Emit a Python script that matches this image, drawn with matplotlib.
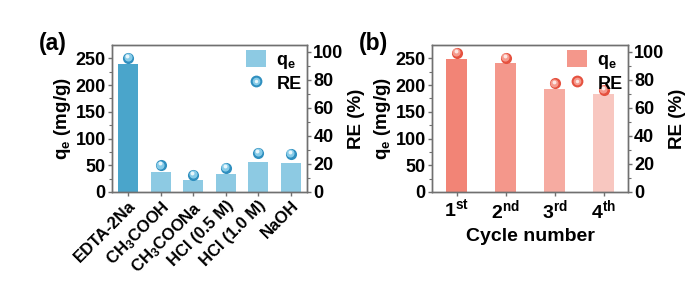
import matplotlib
matplotlib.use("Agg")
import matplotlib.pyplot as plt
from matplotlib.transforms import offset_copy
from matplotlib.lines import Line2D
from matplotlib.patches import Patch
from matplotlib.legend_handler import HandlerTuple

plt.rcParams['font.family'] = ['Liberation Sans', 'DejaVu Sans']
plt.rcParams['font.weight'] = 'bold'
plt.rcParams['mathtext.fontset'] = 'custom'
plt.rcParams['mathtext.rm'] = 'Liberation Sans:bold'
plt.rcParams['mathtext.it'] = 'Liberation Sans:bold'
plt.rcParams['mathtext.bf'] = 'Liberation Sans:bold'

# (a) desorption agents
agents = ["EDTA-2Na", "CH$_3$COOH", "CH$_3$COONa", "HCl (0.5 M)", "HCl (1.0 M)", "NaOH"]
qe_a = [239, 37.5, 22, 34, 55.5, 54.5]
re_a = [96, 19, 12, 17, 28, 27.5]
bar_colors_a = ["#4aa5cb", "#8dcae3", "#8dcae3", "#8dcae3", "#8dcae3", "#8dcae3"]

# (b) cycles
cycles = ["1$^{st}$", "2$^{nd}$", "3$^{rd}$", "4$^{th}$"]
qe_b = [248, 240.5, 193, 182.5]
re_b = [99.5, 96, 77.5, 73]
bar_colors_b = ["#f28476", "#f4978b", "#f6aba1", "#f8c7c0"]

blue_sphere = ("#2f8fbf", "#86cbe8", "#e8f6fb")
red_sphere = ("#e5513f", "#f59a8d", "#fde6e2")

W, H = 700, 283
fig = plt.figure(figsize=(7.0, 2.83), dpi=100)


def spheres(ax, x, y, cols):
    ax.scatter(x, y, s=64, color=cols[0], zorder=4, linewidths=0)
    t1 = offset_copy(ax.transData, fig=fig, x=-0.3, y=0.6, units='points')
    ax.scatter(x, y, s=34, color=cols[1], zorder=5, linewidths=0, transform=t1)
    t2 = offset_copy(ax.transData, fig=fig, x=-0.6, y=1.4, units='points')
    ax.scatter(x, y, s=8, color=cols[2], zorder=6, linewidths=0, transform=t2)


def style(ax):
    for s in ax.spines.values():
        s.set_color("#707070")
        s.set_linewidth(1.0)
    ax.tick_params(direction='out', length=3, width=1, color="#707070",
                   labelsize=13, pad=1.5)
    ax.tick_params(which='minor', direction='out', length=2, width=0.8, color="#707070")


def panel(rect, labels, qe, re, bar_colors, width, sph, legend_patch, tag):
    ax = fig.add_axes(rect)
    x = list(range(len(labels)))
    ax.bar(x, qe, width=width, color=bar_colors, zorder=2)
    ax.set_xlim(-0.5, len(labels) - 0.5)
    ax.set_ylim(0, 275)
    ax.set_yticks([0, 50, 100, 150, 200, 250])
    ax.set_yticks([25, 75, 125, 175, 225], minor=True)
    ax.set_ylabel("q$_e$ (mg/g)", fontsize=13.5, fontweight='bold', labelpad=2)
    style(ax)
    ax2 = ax.twinx()
    ax2.set_ylim(0, 105)
    ax2.set_yticks([0, 20, 40, 60, 80, 100])
    ax2.set_yticks([10, 30, 50, 70, 90], minor=True)
    ax2.set_ylabel("RE (%)", fontsize=13.5, fontweight='bold', labelpad=3)
    style(ax2)
    spheres(ax2, x, re, sph)
    ax.set_xticks(x)
    h_bar = Patch(facecolor=legend_patch)
    h_re = (Line2D([], [], marker='o', ls='', ms=8.5, color=sph[0], mew=0),
            Line2D([], [], marker='o', ls='', ms=5.5, color=sph[1], mew=0),
            Line2D([], [], marker='o', ls='', ms=2.5, color=sph[2], mew=0))
    ax2.legend([h_bar, h_re], ["q$_e$", "RE"], loc='upper right', frameon=False,
               fontsize=13, handler_map={tuple: HandlerTuple(ndivide=1, pad=0)},
               handlelength=1.1, handleheight=1.0, handletextpad=0.6,
               borderaxespad=0.1, labelspacing=0.2, borderpad=0.2)
    fig.text(rect[0] - 0.105, rect[1] + rect[3] + 0.005, tag, fontsize=16.5,
             fontweight='bold', va='center', ha='left')
    return ax


ax_a = panel([112 / W, 1 - 192 / H, 195 / W, 147 / H], agents, qe_a, re_a,
             bar_colors_a, 0.62, blue_sphere, "#8dcae3", "(a)")
ax_a.set_xticklabels(agents, rotation=45, ha='right', rotation_mode='anchor',
                     fontsize=12)

ax_b = panel([432 / W, 1 - 192 / H, 196 / W, 147 / H], cycles, qe_b, re_b,
             bar_colors_b, 0.41, red_sphere, "#f4978b", "(b)")
ax_b.set_xticklabels(cycles, fontsize=14)
ax_b.set_xlabel("Cycle number", fontsize=14, fontweight='bold', labelpad=4)

fig.savefig("out.png", dpi=100, facecolor="white")
